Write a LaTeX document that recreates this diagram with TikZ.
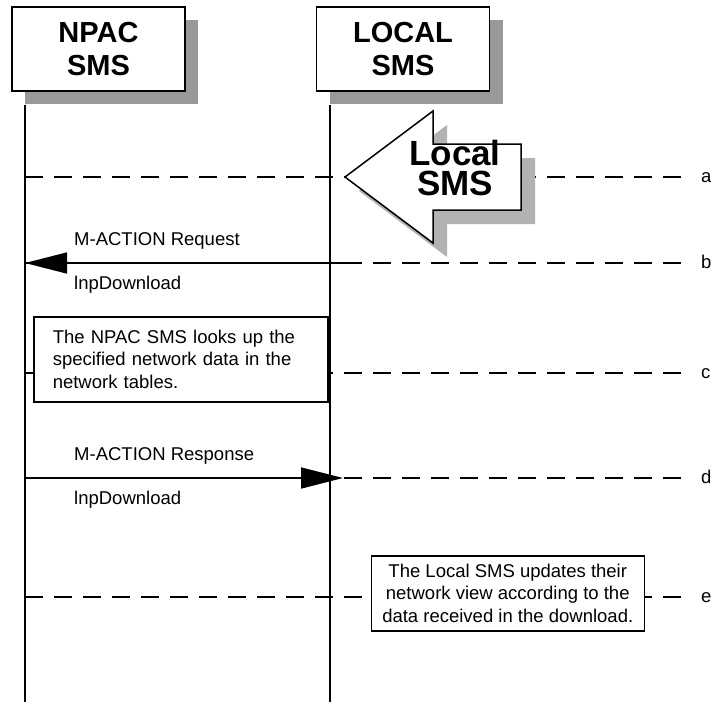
\documentclass[tikz,border=0pt]{standalone}
\usepackage{fontspec}
\setmainfont{Liberation Sans}
\usepackage{tikz}
\usetikzlibrary{arrows.meta}
\usetikzlibrary{shadows}

\tikzset{
    actorbox/.style={draw, line width=1.5pt, fill=white, minimum width=173pt, minimum height=84pt,
        align=center, font=\fontsize{29}{33}\selectfont\bfseries,
        drop shadow={shadow xshift=13pt, shadow yshift=-13pt, fill=black!40, opacity=1}},
    lifeline/.style={line width=1.5pt},
    rowline/.style={line width=1.5pt, dash pattern=on 18pt off 11pt},
    rowlabel/.style={anchor=base west, inner sep=0pt, font=\fontsize{18.5}{22.5}\selectfont},
    msg/.style={line width=1.5pt, -{Triangle[length=42pt, width=21pt]}},
    msglabel/.style={anchor=base west, inner sep=0pt, font=\fontsize{18.5}{22.5}\selectfont},
    notebox/.style={draw, line width=1.5pt, fill=white, font=\fontsize{18.5}{22.5}\selectfont},
    bigtext/.style={align=center, inner sep=0pt, font=\fontsize{35}{30}\selectfont\bfseries}
}

\begin{document}
\begin{tikzpicture}[x=1pt, y=-1pt]
            \useasboundingbox (0,0) rectangle (711,702);

            \node[actorbox] (npac) at (98.5,49) {NPAC\\SMS};
            \node[actorbox] (local) at (403,49) {LOCAL\\SMS};

            \coordinate (npacEnd) at (25,702);
            \coordinate (localEnd) at (330,702);
            \draw[lifeline] ([yshift=-13pt]npac.south -| npacEnd) -- (npacEnd);
            \draw[lifeline] ([yshift=-13pt]local.south -| localEnd) -- (localEnd);

            \foreach \y/\t in {177/a, 263/b, 373/c, 478/d, 597/e} {
                \coordinate (\t-l) at (25,\y);
                \coordinate (\t-r) at (689,\y);
                \node[rowlabel] (\t-lbl) at (701,\y+5) {\t};
                \draw[rowline] (\t-l) -- (\t-r);
            }

            \fill[black!30, shift={(14,14)}] (345,177) -- (433,111) -- (433,144) -- (521,144)
                -- (521,210) -- (433,210) -- (433,243) -- cycle;
            \filldraw[fill=white, line width=1.5pt] (345,177) -- (433,111) -- (433,144) -- (521,144)
                -- (521,210) -- (433,210) -- (433,243) -- cycle;
            \node[bigtext] (localArrow) at (455,168) {Local\\SMS};

            \coordinate (reqStart) at (345,263);
            \draw[msg] (reqStart) -- (b-l);
            \node[msglabel] (reqName) at (74,245) {M-ACTION Request};
            \node[msglabel] (reqObj) at (74,289) {lnpDownload};

            \node[notebox, anchor=north west, text width=256pt, inner xsep=19pt, minimum height=85pt,
                align=left] (lookup) at (33,316)
                {The NPAC SMS looks up the\\specified network data in the\\network tables.};

            \coordinate (respEnd) at (343,478);
            \draw[msg] (d-l) -- (respEnd);
            \node[msglabel] (respName) at (74,460) {M-ACTION Response};
            \node[msglabel] (respObj) at (74,504) {lnpDownload};

            \node[notebox, anchor=north east, minimum width=273pt, minimum height=75pt,
                align=center] (update) at (645,555)
                {The Local SMS updates their\\network view according to the\\data received in the download.};
\end{tikzpicture}
\end{document}
